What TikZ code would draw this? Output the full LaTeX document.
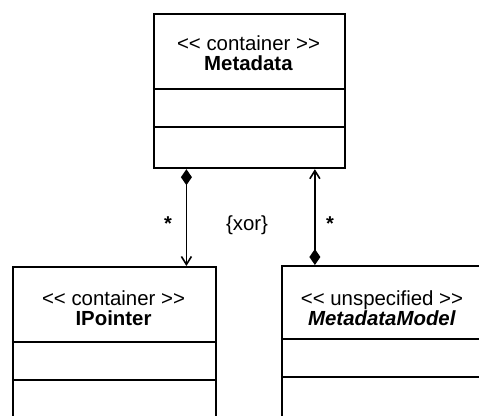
\documentclass[tikz,border=0pt]{standalone}
\usepackage{fontspec}
\setmainfont{Liberation Sans}[Ligatures=TeXOff]
\usetikzlibrary{arrows.meta,calc}
\begin{document}
\begin{tikzpicture}[x=0.5pt,y=-0.5pt,
  box/.style={draw,line width=1.1pt,rectangle,inner sep=0pt,anchor=north west},
  div/.style={line width=1.1pt},
  conn/.style={line width=0.8pt},
  lbl/.style={font=\fontsize{10.2pt}{10pt}\selectfont,align=center},
  star/.style={font=\fontsize{10pt}{12pt}\selectfont\bfseries}]
\useasboundingbox (0,0) rectangle (479,416);
\clip (0,0) rectangle (479,416);
% Metadata
\node[box,minimum width=95.5pt,minimum height=77pt] (meta) at (153,13) {};
\draw[div] (153,89) -- (344,89);
\draw[div] (153,127) -- (344,127);
\node[lbl] (metat) at (248.5,53) {<< container >>\\\textbf{Metadata}};
% IPointer
\node[box,minimum width=101.5pt,minimum height=90pt] (ip) at (12,266) {};
\draw[div] (12,342) -- (215,342);
\draw[div] (12,380) -- (215,380);
\node[lbl] (ipt) at (113.5,308) {<< container >>\\\textbf{IPointer}};
% MetadataModel
\node[box,minimum width=112pt,minimum height=90pt] (mm) at (281,265) {};
\draw[div] (281,339) -- (510,339);
\draw[div] (281,377) -- (510,377);
\node[lbl] (mmt) at (382,308) {<< unspecified >>\\\textbf{\itshape MetadataModel}};
% connectors
\coordinate (a1) at ($(meta.south west)!0.173!(meta.south east)$);
\coordinate (a2) at ($(meta.south west)!0.838!(meta.south east)$);
\draw[conn,{Diamond[length=8pt,width=5.5pt]}-{Straight Barb[length=4pt,width=5pt]}] (a1) -- (ip.north -| a1);
\draw[conn,{Straight Barb[length=4pt,width=5pt]}-{Diamond[length=8pt,width=5.5pt]}] (a2) -- (mm.north -| a2);
\node[star] (s1) at (168,224) {*};
\node[star] (s2) at (330,224) {*};
\node[lbl] (xor) at (247,225) {\{xor\}};
\end{tikzpicture}
\end{document}
